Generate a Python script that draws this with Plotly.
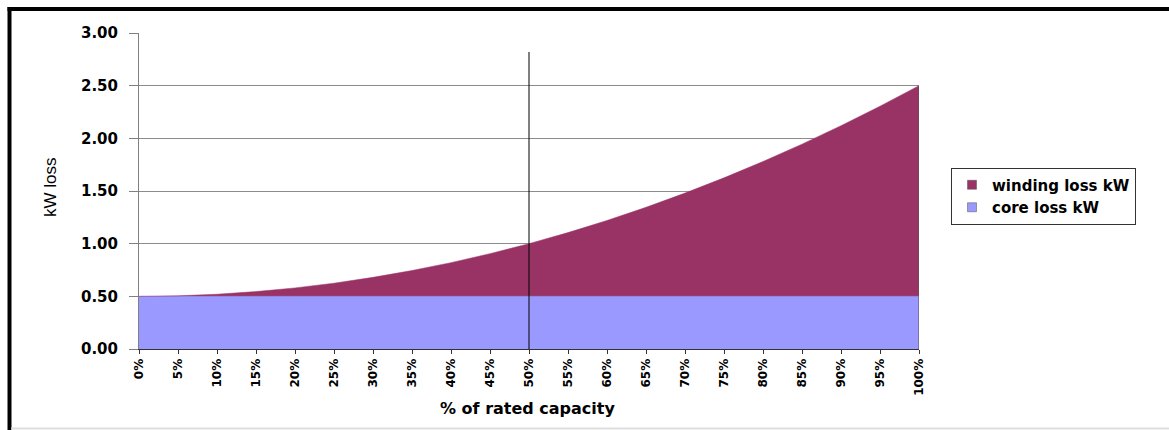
import plotly.graph_objects as go

# Percent of rated capacity (x positions) and their tick labels
capacity_pct = [0, 5, 10, 15, 20, 25, 30, 35, 40, 45, 50,
                55, 60, 65, 70, 75, 80, 85, 90, 95, 100]
tick_labels = ["0%", "5%", "10%", "15%", "20%", "25%", "30%", "35%", "40%", "45%", "50%",
               "55%", "60%", "65%", "70%", "75%", "80%", "85%", "90%", "95%", "100%"]

# Loss components in kW
core_loss_kw = [0.50, 0.50, 0.50, 0.50, 0.50, 0.50, 0.50, 0.50, 0.50, 0.50, 0.50,
                0.50, 0.50, 0.50, 0.50, 0.50, 0.50, 0.50, 0.50, 0.50, 0.50]
winding_loss_kw = [0.000, 0.005, 0.020, 0.045, 0.080, 0.125, 0.180, 0.245, 0.320, 0.405, 0.500,
                   0.605, 0.720, 0.845, 0.980, 1.125, 1.280, 1.445, 1.620, 1.805, 2.000]

y_ticks = [0, 0.5, 1.0, 1.5, 2.0, 2.5, 3.0]
y_tick_text = ["0.00", "0.50", "1.00", "1.50", "2.00", "2.50", "3.00"]

CORE_COLOR = "#9999FF"
WINDING_COLOR = "#993366"

# Page geometry (pixels) used to place frame lines outside the plot area
W, H = 1169, 430
L, R, T, B = 139, 250, 33, 81
PW, PH = W - L - R, H - T - B


def px_x(px):
    return (px - L) / PW


def px_y(py):
    return (H - B - py) / PH


BOLD = "DejaVu Sans"

fig = go.Figure()
fig.add_trace(go.Scatter(
    x=capacity_pct, y=core_loss_kw, name="core loss kW",
    stackgroup="loss", mode="lines", showlegend=False,
    line=dict(width=0.5, color=CORE_COLOR), fillcolor=CORE_COLOR,
))
fig.add_trace(go.Scatter(
    x=capacity_pct, y=winding_loss_kw, name="winding loss kW",
    stackgroup="loss", mode="lines", showlegend=False,
    line=dict(width=0.5, color=WINDING_COLOR), fillcolor=WINDING_COLOR,
))

# Legend keys drawn as small square swatches
for name, color in [("winding loss kW", WINDING_COLOR), ("core loss kW", CORE_COLOR)]:
    fig.add_trace(go.Scatter(
        x=[None], y=[None], name=name, mode="markers",
        marker=dict(symbol="square", size=9, color=color,
                    line=dict(color="#555555", width=0.5)),
    ))

shapes = [
    # marker line at 50 % of rated capacity
    dict(type="line", xref="x", yref="y", x0=50, x1=50, y0=0, y1=2.82,
         line=dict(color="#000000", width=1), layer="above"),
    # right edge of the stacked area
    dict(type="line", xref="x", yref="y", x0=100, x1=100, y0=0, y1=2.5,
         line=dict(color="#555555", width=1), layer="above"),
    # outer frame: left, top, bottom
    dict(type="line", xref="paper", yref="paper", x0=px_x(9.5), x1=px_x(9.5),
         y0=px_y(7), y1=px_y(431), line=dict(color="#000000", width=4)),
    dict(type="line", xref="paper", yref="paper", x0=px_x(7.5), x1=px_x(1170),
         y0=px_y(9), y1=px_y(9), line=dict(color="#000000", width=4)),
    dict(type="line", xref="paper", yref="paper", x0=px_x(11), x1=px_x(1170),
         y0=px_y(428.5), y1=px_y(428.5), line=dict(color="#DDDDDD", width=2)),
]

annotations = [
    dict(text="kW loss", xref="paper", yref="paper", x=px_x(50), y=px_y(187),
         xanchor="center", yanchor="middle", textangle=-90, showarrow=False,
         font=dict(family="Liberation Sans Narrow, Liberation Sans, sans-serif", size=17, color="#000000")),
    dict(text="<b>% of rated capacity</b>", xref="paper", yref="paper", x=px_x(527), y=px_y(408),
         xanchor="center", yanchor="middle", showarrow=False,
         font=dict(family=BOLD, size=16, color="#000000")),
]

fig.update_layout(
    width=W, height=H,
    margin=dict(l=L, r=R, t=T, b=B, pad=0),
    paper_bgcolor="#FFFFFF", plot_bgcolor="#FFFFFF",
    showlegend=True,
    legend=dict(
        x=px_x(951), y=px_y(196), xanchor="left", yanchor="middle",
        traceorder="normal", bgcolor="#FFFFFF",
        bordercolor="#333333", borderwidth=1,
        font=dict(family=BOLD, size=15, color="#000000", weight="bold"),
        tracegroupgap=0, itemwidth=30,
    ),
    xaxis=dict(
        range=[0, 100], tickmode="array", tickvals=capacity_pct, ticktext=tick_labels,
        tickangle=-90, ticks="outside", ticklen=4, tickcolor="#333333",
        showgrid=False, zeroline=False, showline=True, linecolor="#333333", linewidth=1,
        tickfont=dict(family=BOLD, size=12, color="#000000", weight="bold"),
    ),
    yaxis=dict(
        range=[0, 3], tickmode="array", tickvals=y_ticks, ticktext=y_tick_text,
        ticks="outside", ticklen=9, tickcolor="#808080",
        showgrid=True, gridcolor="#8C8C8C", gridwidth=1,
        zeroline=False, showline=True, linecolor="#808080", linewidth=1,
        ticklabelstandoff=8,
        tickfont=dict(family=BOLD, size=15, color="#000000", weight="bold"),
    ),
    shapes=shapes,
    annotations=annotations,
)

fig.write_html("out.html")
